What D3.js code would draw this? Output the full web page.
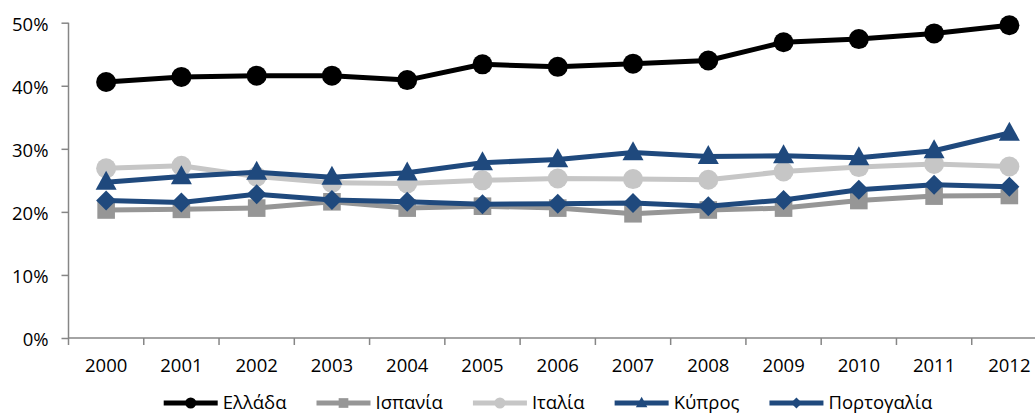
<!DOCTYPE html>
<html>
<head>
<meta charset="utf-8">
<script src="https://cdn.jsdelivr.net/npm/d3@7"></script>
<style>
  html, body { margin: 0; padding: 0; background: #fff; overflow: hidden; }
  svg { display: block; }
  text { font-family: "Open Sans", "Noto Sans", "DejaVu Sans", sans-serif; fill: #000; }
</style>
</head>
<body>
<svg id="chart" width="1035" height="414"></svg>
<script>
const years = ["2000","2001","2002","2003","2004","2005","2006","2007","2008","2009","2010","2011","2012"];
const seriesNames = ["Ελλάδα","Ισπανία","Ιταλία","Κύπρος","Πορτογαλία"];
const greece   = [40.6,41.4,41.6,41.6,40.9,43.4,43.0,43.5,44.0,46.9,47.4,48.3,49.6];
const spain    = [20.3,20.4,20.6,21.6,20.6,20.9,20.6,19.7,20.3,20.6,21.8,22.5,22.6];
const italy    = [26.9,27.3,25.6,24.6,24.5,25.0,25.3,25.2,25.1,26.4,27.1,27.6,27.2];
const cyprus   = [24.7,25.6,26.3,25.5,26.2,27.8,28.3,29.4,28.8,28.9,28.6,29.7,32.5];
const portugal = [21.8,21.5,22.8,21.9,21.6,21.2,21.3,21.4,20.9,21.9,23.5,24.3,24.0];
const yTicks = [0,10,20,30,40,50];

const seriesData = [greece, spain, italy, cyprus, portugal];
const colors = ["#000000","#969696","#c6c6c6","#1f497d","#1f497d"];
const markers = ["circle","square","circle","triangle","diamond"];

const svg = d3.select("#chart");
const x = d3.scaleBand().domain(years).range([68.5, 1047]);
const y = d3.scaleLinear().domain([0, 50]).range([338, 22.7]);
const axisColor = "#868686";
const fs = 18.5;

// Y axis
const yAxis = svg.append("g").attr("transform", "translate(68.5,0)")
  .call(d3.axisLeft(y).tickValues(yTicks).tickSize(7).tickPadding(13).tickFormat(d => d + "%"));
yAxis.select(".domain").attr("stroke", axisColor).attr("stroke-width", 1.5).attr("d", `M0,${y(0)}V${y(50)}`);
yAxis.selectAll(".tick line").attr("stroke", axisColor).attr("stroke-width", 1.5);
yAxis.selectAll(".tick text").attr("font-size", fs).attr("font-family", null).attr("dy", "0.4em");

// X axis
const xAxis = svg.append("g").attr("transform", `translate(0,${y(0)})`)
  .call(d3.axisBottom(x).tickSize(0).tickPadding(21));
xAxis.select(".domain").attr("stroke", axisColor).attr("stroke-width", 1.5).attr("d", `M${x.range()[0]},0H${x.range()[1]}`);
xAxis.selectAll(".tick text").attr("font-size", fs).attr("font-family", null);
// category boundary ticks
const bounds = years.map(d => x(d)).concat([x.range()[1]]);
svg.append("g").selectAll("line").data(bounds).join("line")
  .attr("x1", d => d).attr("x2", d => d)
  .attr("y1", y(0)).attr("y2", y(0) + 7)
  .attr("stroke", axisColor).attr("stroke-width", 1.5);

const cx = d => x(d) + x.bandwidth() / 2;

function drawMarker(g, type, px, py, size, color) {
  if (type === "circle") {
    g.append("circle").attr("cx", px).attr("cy", py).attr("r", size / 2).attr("fill", color);
  } else if (type === "square") {
    g.append("rect").attr("x", px - size * 0.44).attr("y", py - size * 0.44)
      .attr("width", size * 0.88).attr("height", size * 0.88).attr("fill", color);
  } else if (type === "triangle") {
    const h = size * 0.95, w = size * 1.05;
    g.append("path").attr("d", `M${px},${py - h * 0.6}L${px + w / 2},${py + h * 0.4}L${px - w / 2},${py + h * 0.4}Z`).attr("fill", color);
  } else if (type === "diamond") {
    const s = size / 2;
    g.append("path").attr("d", `M${px},${py - s}L${px + s},${py}L${px},${py + s}L${px - s},${py}Z`).attr("fill", color);
  }
}

const line = d3.line().x((d, i) => cx(years[i])).y(d => y(d));
seriesData.forEach((data, si) => {
  const g = svg.append("g");
  g.append("path").datum(data).attr("d", line)
    .attr("fill", "none").attr("stroke", colors[si]).attr("stroke-width", 5).attr("stroke-linejoin", "round");
  data.forEach((v, i) => drawMarker(g, markers[si], cx(years[i]), y(v), 20, colors[si]));
});

// Legend
const legend = svg.append("g");
const ly = 403;
const lineLen = 54, textGap = 5, itemGap = 30;
const items = seriesNames.map((name, i) => {
  const t = legend.append("text").attr("font-size", fs).attr("y", ly).attr("dy", "0.35em").text(name);
  return { t, w: t.node().getComputedTextLength(), i };
});
const total = d3.sum(items, d => lineLen + textGap + d.w) + itemGap * (items.length - 1);
let lx = 548 - total / 2;
items.forEach(it => {
  legend.append("line").attr("x1", lx).attr("x2", lx + lineLen).attr("y1", ly).attr("y2", ly)
    .attr("stroke", colors[it.i]).attr("stroke-width", 5);
  drawMarker(legend, markers[it.i], lx + lineLen / 2, ly, 11, colors[it.i]);
  it.t.attr("x", lx + lineLen + textGap);
  lx += lineLen + textGap + it.w + itemGap;
});
</script>
</body>
</html>
